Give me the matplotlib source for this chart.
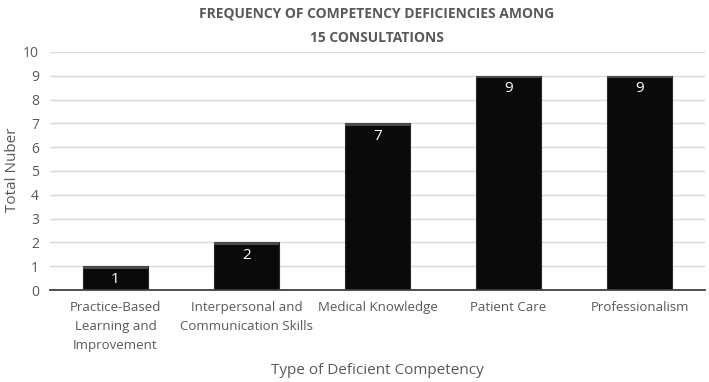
import matplotlib
matplotlib.use('Agg')
import matplotlib.pyplot as plt

categories = ['Practice-Based\nLearning and\nImprovement',
              'Interpersonal and\nCommunication Skills',
              'Medical Knowledge',
              'Patient Care',
              'Professionalism']
counts = [1, 2, 7, 9, 9]
yticks = list(range(0, 11))

if __name__ == '__main__':

  plt.rcParams['font.family'] = ['Open Sans', 'DejaVu Sans']

  fig = plt.figure(figsize=(7.09, 3.82), dpi=100)
  ax = fig.add_axes([50 / 709, 1 - 290 / 382, 655 / 709, 238 / 382])

  x = list(range(len(categories)))
  ax.bar(x, counts, width=0.5, color='#0a0a0a', edgecolor='#2a2a2a',
         linewidth=0.8, zorder=3)
  # bevel strip along the top of each bar
  ax.bar(x, [0.1] * len(counts), width=0.5,
         bottom=[c - 0.1 for c in counts], color='#4a4a4a',
         linewidth=0, zorder=4)

  for xi, c in zip(x, counts):
    ax.text(xi, c - 0.55, str(c), ha='center', va='center',
            color='white', fontsize=11, zorder=6)

  ax.set_xlim(-0.5, len(categories) - 0.5)
  ax.set_ylim(0, 10)
  ax.set_yticks(yticks)
  ax.set_xticks(x)
  ax.set_xticklabels(categories, fontsize=9.5, color='#595959',
                     linespacing=1.6)
  ax.tick_params(axis='y', length=0, labelsize=10, labelcolor='#595959',
                 pad=8)
  ax.tick_params(axis='x', length=0, pad=8)
  ax.grid(axis='y', color='#d9d9d9', linewidth=1, zorder=0)
  for s in ['top', 'right', 'left']:
    ax.spines[s].set_visible(False)
  ax.spines['bottom'].set_color('#404040')
  ax.spines['bottom'].set_linewidth(1.3)
  ax.spines['bottom'].set_zorder(7)

  fig.text(12 / 709, 1 - 170 / 382, 'Total Nuber', rotation=90,
           ha='center', va='center', fontsize=11, color='#595959')
  fig.text(377 / 709, 1 - 370 / 382, 'Type of Deficient Competency',
           ha='center', va='center', fontsize=11, color='#595959')
  fig.text(377 / 709, 1 - 26 / 382,
           'FREQUENCY OF COMPETENCY DEFICIENCIES AMONG\n15 CONSULTATIONS',
           ha='center', va='center', fontsize=10, fontweight='bold',
           color='#595959', linespacing=2.0)

  fig.savefig('out.png', dpi=100)
